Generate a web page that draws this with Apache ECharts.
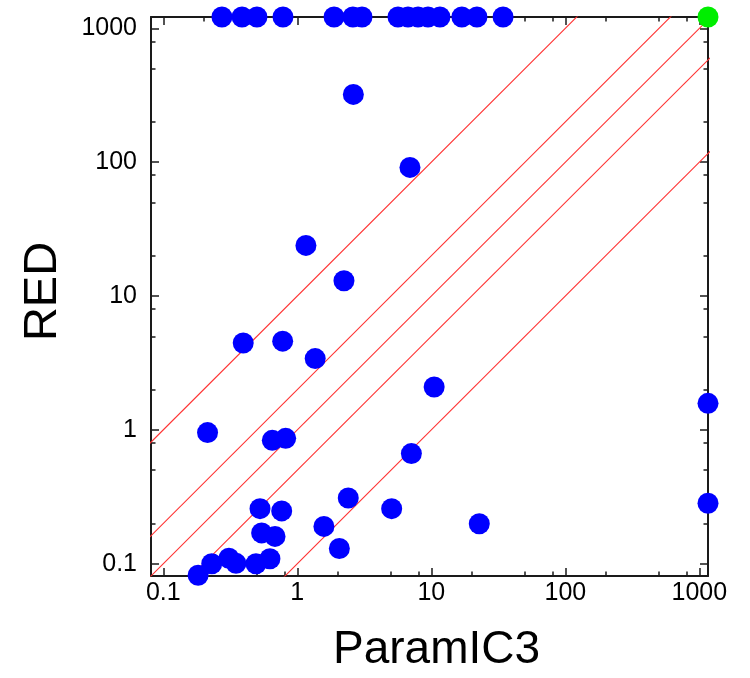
<!DOCTYPE html>
<html>
<head>
<meta charset="utf-8">
<script src="https://cdn.jsdelivr.net/npm/echarts@6/dist/echarts.min.js"></script>
<style>
html, body { margin: 0; padding: 0; background: #fff; }
#chart { width: 750px; height: 678px; }
</style>
</head>
<body>
<div id="chart"></div>
<script>
// log axis ranges
var X_MIN = 0.081, X_MAX = 1160;
var Y_MIN = 0.081, Y_MAX = 1215;

var majorTicks = [0.1, 1, 10, 100, 1000];
var minorFactors = [2, 5, 8];

// points pinned to the top of the plot (RED off scale)
var offScaleX = [0.274, 0.387, 0.5, 0.782, 1.88, 2.6, 3.04, 5.64, 6.7, 7.96, 9.45, 11.6, 16.9, 21.9, 34.3];

// regular points
var paramIC3 = [2.62, 6.93, 1.16, 2.23, 0.395, 0.778, 1.36, 10.5, 0.214, 0.651, 0.819, 7.1,
  0.527, 0.765, 0.542, 0.682, 0.492, 0.625, 0.309, 0.349, 0.23, 0.182, 1.58, 2.4, 2.06, 5.06, 22.8];
var red = [321, 91.4, 23.9, 13.0, 4.46, 4.6, 3.41, 2.09, 0.955, 0.836, 0.865, 0.665,
  0.258, 0.248, 0.17, 0.16, 0.1, 0.109, 0.11, 0.1007, 0.1, 0.082, 0.19, 0.31, 0.13, 0.258, 0.199];

// points pinned to the right edge (ParamIC3 off scale)
var offScaleRed = [1.58, 0.283];

// reference lines RED = k * ParamIC3
var lineRatios = [10, 2, 1, 0.5, 0.1];
var lineStartX = 0.01, lineEndX = 5000;

var minorTicks = [];
for (var d = 0.01; d < 2000; d *= 10) {
  minorFactors.forEach(function (f) { minorTicks.push(+(d * f).toPrecision(3)); });
}

var blueData = [];
offScaleX.forEach(function (x) { blueData.push([x, Y_MAX]); });
paramIC3.forEach(function (x, i) { blueData.push([x, red[i]]); });
offScaleRed.forEach(function (y) { blueData.push([X_MAX, y]); });

var lineSeries = lineRatios.map(function (k) {
  return {
    type: "line",
    data: [[lineStartX, lineStartX * k], [lineEndX, lineEndX * k]],
    symbol: "none",
    silent: true,
    clip: true,
    color: "#ff3333",
    itemStyle: { color: "#ff3333" },
    lineStyle: { color: "#ff3333", width: 1.1, opacity: 1 },
    z: 1,
  };
});

var axisColor = "#1a1a1a";
var textColor = "#000";
function fmt(v) { return String(+(+v).toPrecision(6)); }

function xAx(pos, ticks, len, withLine, withLabel) {
  return {
    type: "log", logBase: 10, min: X_MIN, max: X_MAX, position: pos,
    axisLine: { show: withLine, onZero: false, lineStyle: { color: axisColor, width: 2 } },
    axisTick: { show: true, inside: true, length: len, customValues: ticks,
      lineStyle: { color: axisColor, width: 1.5 } },
    axisLabel: { show: withLabel, customValues: majorTicks, formatter: fmt, margin: 5,
      fontSize: 25, color: textColor, fontFamily: "Liberation Sans" },
    splitLine: { show: false },
    name: withLabel ? "ParamIC3" : "",
    nameLocation: "middle", nameGap: 51,
    nameTextStyle: { fontSize: 46, color: textColor, fontFamily: "Liberation Sans", padding: [0, 0, 0, 14] },
  };
}
function yAx(pos, ticks, len, withLine, withLabel) {
  return {
    type: "log", logBase: 10, min: Y_MIN, max: Y_MAX, position: pos,
    axisLine: { show: withLine, onZero: false, lineStyle: { color: axisColor, width: 2 } },
    axisTick: { show: true, inside: true, length: len, customValues: ticks,
      lineStyle: { color: axisColor, width: 1.5 } },
    axisLabel: { show: withLabel, customValues: majorTicks, formatter: fmt, margin: 14,
      fontSize: 25, color: textColor, fontFamily: "Liberation Sans" },
    splitLine: { show: false },
    name: withLabel ? "RED" : "",
    nameLocation: "middle", nameGap: 84, nameRotate: 90,
    nameTextStyle: { fontSize: 47, color: textColor, fontFamily: "Liberation Sans", padding: [0, 0, 0, 10] },
  };
}

var myChart = echarts.init(document.getElementById("chart"));
myChart.setOption({
  animation: false,
  backgroundColor: "#fff",
  grid: { left: 151, top: 17, width: 557, height: 559 },
  xAxis: [
    xAx("bottom", majorTicks, 8, true, true),
    xAx("bottom", minorTicks, 4.5, false, false),
    xAx("top", majorTicks, 8, true, false),
    xAx("top", minorTicks, 4.5, false, false),
  ],
  yAxis: [
    yAx("left", majorTicks, 8, true, true),
    yAx("left", minorTicks, 4.5, false, false),
    yAx("right", majorTicks, 8, true, false),
    yAx("right", minorTicks, 4.5, false, false),
  ],
  series: lineSeries.concat([
    {
      type: "scatter",
      data: blueData,
      symbolSize: 21,
      itemStyle: { color: "#0000ff", opacity: 1 },
      clip: false,
      z: 3,
    },
    {
      type: "scatter",
      data: [[X_MAX, Y_MAX]],
      symbolSize: 21,
      itemStyle: { color: "#00ee00", opacity: 1 },
      clip: false,
      z: 4,
    },
  ]),
});
</script>
</body>
</html>
